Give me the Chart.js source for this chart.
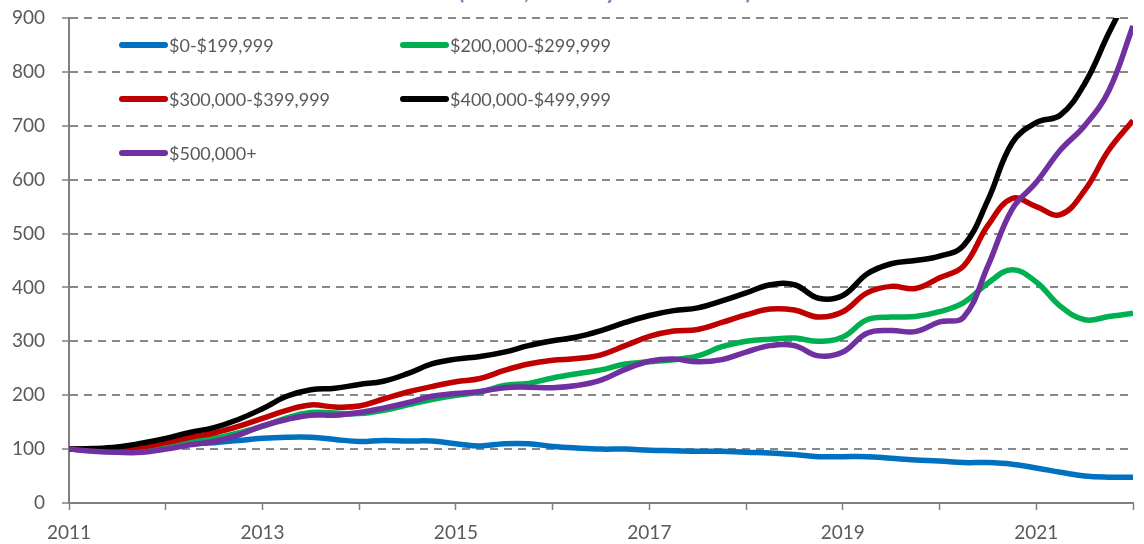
<!DOCTYPE html>
<html>
<head>
<meta charset="utf-8">
<script src="https://cdn.jsdelivr.net/npm/chart.js@4"></script>
<style>
	body { margin: 0; background: #fff; overflow: hidden; }
	#wrap { position: relative; width: 1144px; height: 544px; }
	#title {
		position: absolute; left: 69px; width: 1072px; top: -23px;
		text-align: center; font: bold 24px Lato, sans-serif; line-height: 26px;
		color: #7f86b6;
	}
</style>
</head>
<body>
<div id="wrap">
	<div id="title">(Index, January 2011 = 100)</div>
	<canvas id="chart" width="1144" height="544"></canvas>
</div>
<script>
// quarterly periods, Jan 2011 = 100
const periods = [
	2011, 2011.25, 2011.5, 2011.75, 2012, 2012.25, 2012.5, 2012.75,
	2013, 2013.25, 2013.5, 2013.75, 2014, 2014.25, 2014.5, 2014.75,
	2015, 2015.25, 2015.5, 2015.75, 2016, 2016.25, 2016.5, 2016.75,
	2017, 2017.25, 2017.5, 2017.75, 2018, 2018.25, 2018.5, 2018.75,
	2019, 2019.25, 2019.5, 2019.75, 2020, 2020.25, 2020.5, 2020.75,
	2021, 2021.25, 2021.5, 2021.75, 2022
];

const seriesNames = ['$0-$199,999', '$200,000-$299,999', '$300,000-$399,999', '$400,000-$499,999', '$500,000+'];
const seriesColors = ['#0070C0', '#00B050', '#C00000', '#000000', '#7030A0'];

const under200k = [
	100, 100, 102, 104, 107, 110, 112, 116,
	120, 122, 122, 118, 114, 116, 115, 115,
	110, 106, 110, 110, 105, 102, 100, 100,
	98, 97, 96, 96, 94, 93, 90, 86,
	86, 86, 83, 80, 78, 75, 75, 72,
	65, 57, 50, 48, 48
];
const from200k = [
	100, 98, 96, 98, 106, 115, 120, 130,
	142, 158, 168, 167, 166, 172, 182, 192,
	200, 206, 218, 222, 232, 240, 247, 258,
	262, 266, 273, 290, 300, 304, 306, 300,
	308, 340, 345, 346, 355, 372, 408, 433,
	410, 365, 340, 346, 352
];
const from300k = [
	100, 99, 100, 104, 112, 122, 130, 142,
	157, 172, 182, 178, 180, 193, 206, 216,
	225, 231, 246, 258, 265, 268, 275, 292,
	309, 319, 322, 335, 349, 360, 358, 345,
	355, 390, 402, 398, 418, 440, 515, 565,
	550, 535, 580, 655, 710
];
const from400k = [
	100, 101, 104, 111, 120, 131, 140, 155,
	175, 198, 210, 213, 220, 226, 240, 258,
	267, 272, 280, 292, 301, 308, 320, 335,
	348, 357, 362, 375, 390, 405, 405, 380,
	385, 425, 444, 450, 458, 478, 562, 668,
	706, 720, 778, 872, 960
];
const over500k = [
	100, 96, 94, 94, 100, 108, 114, 126,
	143, 155, 163, 163, 168, 176, 186, 198,
	203, 207, 214, 215, 214, 218, 228, 248,
	263, 267, 262, 266, 280, 292, 292, 273,
	280, 315, 320, 318, 336, 345, 440, 545,
	595, 655, 700, 765, 885
];

const yTicks = [0, 100, 200, 300, 400, 500, 600, 700, 800, 900];

const allSeries = [under200k, from200k, from300k, from400k, over500k];
const gray = '#808080';
const textColor = '#595959';
const fontFamily = 'Lato, "Open Sans", sans-serif';

// legend drawn inside the plot, two columns
const legendSpots = [
	{ x: 122, y: 45 }, { x: 403, y: 45 },
	{ x: 122, y: 99 }, { x: 403, y: 99 },
	{ x: 122, y: 153 }
];

const insideLegend = {
	id: 'insideLegend',
	afterDatasetsDraw(chart) {
		const ctx = chart.ctx;
		ctx.save();
		ctx.font = '18px ' + fontFamily;
		ctx.textBaseline = 'middle';
		chart.data.datasets.forEach((ds, i) => {
			const p = legendSpots[i];
			ctx.strokeStyle = ds.borderColor;
			ctx.lineWidth = 6;
			ctx.lineCap = 'round';
			ctx.beginPath();
			ctx.moveTo(p.x, p.y);
			ctx.lineTo(p.x + 43, p.y);
			ctx.stroke();
			ctx.fillStyle = textColor;
			ctx.fillText(ds.label, p.x + 47, p.y + 1);
		});
		ctx.restore();
	}
};

const datasets = allSeries.map((vals, i) => ({
	label: seriesNames[i],
	data: vals.map((v, j) => ({ x: periods[j], y: v })),
	borderColor: seriesColors[i],
	backgroundColor: seriesColors[i],
	borderWidth: 5.5,
	pointRadius: 0,
	tension: 0.4,
	fill: false,
	order: 4 - i
}));

new Chart(document.getElementById('chart'), {
	type: 'line',
	data: { datasets: datasets },
	options: {
		responsive: false,
		animation: false,
		layout: { padding: { top: 18, right: 3, left: 0, bottom: 0 } },
		plugins: {
			legend: { display: false },
			tooltip: { enabled: false }
		},
		scales: {
			x: {
				type: 'linear',
				min: 2011,
				max: 2022,
				afterFit(scale) { scale.height = 41; },
				ticks: {
					stepSize: 1,
					autoSkip: false,
					maxRotation: 0,
					padding: 11,
					color: textColor,
					font: { family: fontFamily, size: 19 },
					callback: v => ((v - 2011) % 2 === 0 && v < 2022) ? String(v) : ''
				},
				grid: {
					drawOnChartArea: false,
					drawTicks: true,
					tickLength: 7,
					tickColor: gray,
					tickWidth: 1.5,
					color: gray
				},
				border: { display: true, color: gray, width: 2 }
			},
			y: {
				min: 0,
				max: 900,
				afterFit(scale) {
					scale.width = 69;
					// the label gap should not push the plot down
					scale.paddingTop = 10;
					scale.paddingBottom = 10;
				},
				afterBuildTicks(scale) { scale.ticks = yTicks.map(v => ({ value: v })); },
				ticks: {
					padding: 17,
					color: textColor,
					font: { family: fontFamily, size: 19 }
				},
				grid: {
					color: ctx => ctx.tick && ctx.tick.value === 0 ? 'rgba(0,0,0,0)' : '#888888',
					lineWidth: 2,
					drawTicks: true,
					tickLength: 7,
					tickColor: gray,
					tickWidth: 1.5
				},
				border: { display: true, color: gray, width: 2, dash: [8, 6] }
			}
		}
	},
	plugins: [insideLegend]
});
</script>
</body>
</html>
